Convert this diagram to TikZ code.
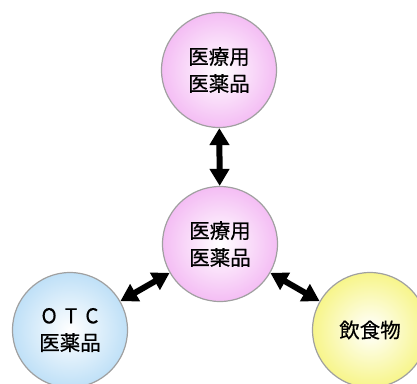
\documentclass[tikz,border=0pt]{standalone}
\usepackage{fontspec}
\setmainfont[FakeBold=0.5,AutoFakeBold=0.5]{Noto Sans CJK JP}
\usetikzlibrary{arrows.meta}
\definecolor{pinkedge}{HTML}{F4BDF4}
\definecolor{blueedge}{HTML}{BFE0F7}
\definecolor{yellowedge}{HTML}{F7F58A}
\definecolor{rimgray}{HTML}{A0A0A0}
\tikzset{
  bubble/.style={circle, minimum size=115pt, inner sep=0pt, draw=rimgray, line width=1.2pt,
    font=\fontsize{20.5pt}{27pt}\selectfont\bfseries, align=center, text=black},
  pinkb/.style={bubble, inner color=white, outer color=pinkedge},
  blueb/.style={bubble, inner color=white, outer color=blueedge},
  yellowb/.style={bubble, inner color=white, outer color=yellowedge},
  link/.style={line width=6pt, {Triangle[width=19pt,length=17pt]}-{Triangle[width=19pt,length=17pt]}}
}
\begin{document}
\begin{tikzpicture}[x=1pt,y=-1pt]
\useasboundingbox (0,0) rectangle (417,383);
\node[pinkb] (top) at (219,70) {医療用\\医薬品};
\node[pinkb] (mid) at (220,244) {医療用\\医薬品};
\node[blueb] (otc) at (70,330) {O\hspace{0.4em}T\hspace{0.4em}C\\医薬品};
\node[yellowb] (food) at (370,330) {飲食物};
\draw[link] (top) -- (mid);
\draw[link] (mid) -- (otc);
\draw[link] (mid) -- (food);
\end{tikzpicture}
\end{document}
